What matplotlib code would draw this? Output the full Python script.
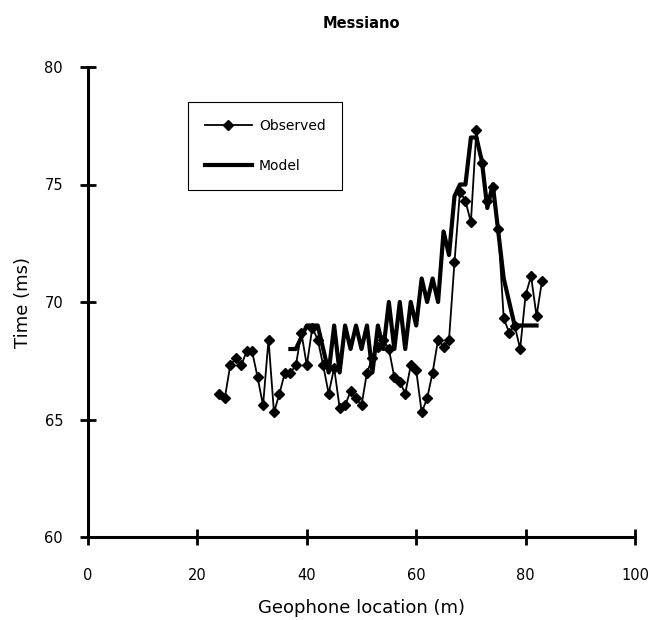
import matplotlib
matplotlib.use('Agg')
from matplotlib import pyplot as plt

# geophone positions (m) and picked / modelled travel times (ms)
obs_x = list(range(24, 84))
obs_t = [66.1, 65.9, 67.3, 67.6, 67.3, 67.9, 67.9, 66.8, 65.6, 68.4,
         65.3, 66.1, 67.0, 67.0, 67.3, 68.7, 67.3, 68.9, 68.4, 67.3,
         66.1, 67.2, 65.5, 65.6, 66.2, 65.9, 65.6, 67.0, 67.6, 68.1,
         68.4, 68.0, 66.8, 66.6, 66.1, 67.3, 67.1, 65.3, 65.9, 67.0,
         68.4, 68.1, 68.4, 71.7, 74.7, 74.3, 73.4, 77.3, 75.9, 74.3,
         74.9, 73.1, 69.3, 68.7, 69.0, 68.0, 70.3, 71.1, 69.4, 70.9]

mod_x = list(range(37, 83))
mod_t = [68, 68, 68.5, 69, 69, 69, 68, 67, 69, 67,
         69, 68, 69, 68, 69, 67, 69, 68, 70, 68,
         70, 68, 70, 69, 71, 70, 71, 70, 73, 72,
         74.5, 75, 75, 77, 77, 76, 74, 75, 73, 71,
         70, 69, 69, 69, 69, 69]

x_ticks = [0, 20, 40, 60, 80, 100]
y_ticks = [60, 65, 70, 75, 80]

plt.rcParams['font.family'] = ['DejaVu Sans']

fig = plt.figure(figsize=(6.49, 6.20), dpi=100)
ax = fig.add_axes([88 / 649, 1 - 537 / 620, (635 - 88) / 649, (537 - 67) / 620])

ax.plot(obs_x, obs_t, color='black', linewidth=1.3, marker='D',
        markersize=5.5, label='Observed', zorder=3)
ax.plot(mod_x, mod_t, color='black', linewidth=3.0, label='Model', zorder=2)

ax.set_xlim(0, 100)
ax.set_ylim(60, 80)
ax.set_xticks(x_ticks)
ax.set_yticks(y_ticks)

for side in ['top', 'right']:
    ax.spines[side].set_visible(False)
for side in ['left', 'bottom']:
    ax.spines[side].set_linewidth(2.2)
ax.tick_params(direction='inout', length=12, width=2.0, labelsize=10.5)
ax.tick_params(axis='x', pad=16)
ax.tick_params(axis='y', pad=12)

ax.set_title('Messiano', fontsize=10.5, fontweight='semibold', pad=28)
ax.set_xlabel('Geophone location (m)', fontsize=13, labelpad=12)
ax.set_ylabel('Time (ms)', fontsize=13, labelpad=9)

leg = ax.legend(loc='upper left', bbox_to_anchor=(188 / 649, 1 - 102 / 620),
                bbox_transform=fig.transFigure, fancybox=False, shadow=False,
                edgecolor='black', framealpha=1, fontsize=10,
                handlelength=3.4, labelspacing=1.9, borderpad=1.2,
                handletextpad=0.5, borderaxespad=0)
leg.get_frame().set_linewidth(0.8)

fig.savefig('out.png', dpi=100)
